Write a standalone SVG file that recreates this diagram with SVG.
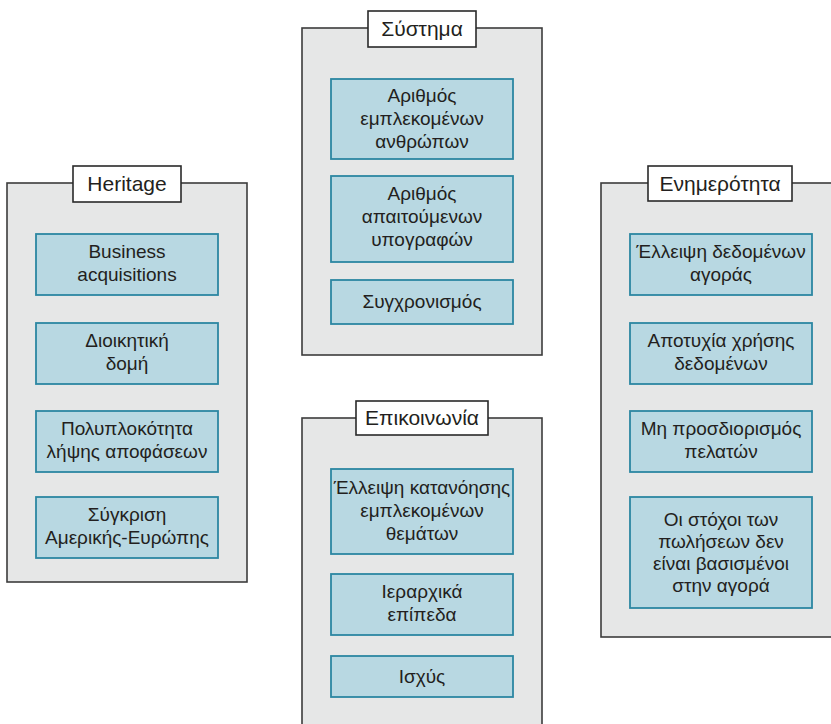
<svg xmlns="http://www.w3.org/2000/svg" width="831" height="724" viewBox="0 0 831 724">
<style>
.panel{fill:#e6e7e7;stroke:#3c3c3c;stroke-width:1.6}
.title{fill:#ffffff;stroke:#2a2a2a;stroke-width:1.6}
.item{fill:#b8d8e2;stroke:#2c87a2;stroke-width:1.8}
text{font-family:"Liberation Sans",Arial,sans-serif;fill:#231f20;text-anchor:middle}
.tt{font-size:21px}
.it{font-size:19px}
</style>
<rect width="831" height="724" fill="#ffffff"/>
<g id="connectors"></g>

<g id="heritage">
<rect class="panel" x="7" y="183" width="240" height="399"/>
<rect class="title" x="73" y="166" width="108" height="36"/>
<text class="tt" x="127" y="191">Heritage</text>
</g>
<g id="h1"><rect class="item" x="36" y="234" width="182" height="61"/>
<text class="it" x="127" y="258">Business</text><text class="it" x="127" y="281">acquisitions</text></g>
<g id="h2"><rect class="item" x="36" y="323" width="182" height="61"/>
<text class="it" x="127" y="347">Διοικητική</text><text class="it" x="127" y="370">δομή</text></g>
<g id="h3"><rect class="item" x="36" y="411" width="182" height="61"/>
<text class="it" x="127" y="435">Πολυπλοκότητα</text><text class="it" x="127" y="458">λήψης αποφάσεων</text></g>
<g id="h4"><rect class="item" x="36" y="497" width="182" height="61"/>
<text class="it" x="127" y="521">Σύγκριση</text><text class="it" x="127" y="544">Αμερικής-Ευρώπης</text></g>

<g id="systima">
<rect class="panel" x="302" y="28" width="240" height="327"/>
<rect class="title" x="368" y="11" width="108" height="36"/>
<text class="tt" x="422" y="36">Σύστημα</text>
</g>
<g id="s1"><rect class="item" x="331" y="79" width="182" height="80"/>
<text class="it" x="422" y="102">Αριθμός</text><text class="it" x="422" y="125">εμπλεκομένων</text><text class="it" x="422" y="148">ανθρώπων</text></g>
<g id="s2"><rect class="item" x="331" y="176" width="182" height="86"/>
<text class="it" x="422" y="200">Αριθμός</text><text class="it" x="422" y="223">απαιτούμενων</text><text class="it" x="422" y="246">υπογραφών</text></g>
<g id="s3"><rect class="item" x="331" y="280" width="182" height="44"/>
<text class="it" x="422" y="308">Συγχρονισμός</text></g>

<g id="epikoinonia">
<rect class="panel" x="302" y="418" width="240" height="320"/>
<rect class="title" x="356" y="401" width="132" height="34"/>
<text class="tt" x="422" y="425">Επικοινωνία</text>
</g>
<g id="e1"><rect class="item" x="331" y="469" width="182" height="85"/>
<text class="it" x="422" y="494">Έλλειψη κατανόησης</text><text class="it" x="422" y="517">εμπλεκομένων</text><text class="it" x="422" y="540">θεμάτων</text></g>
<g id="e2"><rect class="item" x="331" y="574" width="182" height="61"/>
<text class="it" x="422" y="598">Ιεραρχικά</text><text class="it" x="422" y="621">επίπεδα</text></g>
<g id="e3"><rect class="item" x="331" y="656" width="182" height="41"/>
<text class="it" x="422" y="683">Ισχύς</text></g>

<g id="enimerotita">
<rect class="panel" x="601" y="183" width="242" height="454"/>
<rect class="title" x="648" y="166" width="144" height="35"/>
<text class="tt" x="720" y="191">Ενημερότητα</text>
</g>
<g id="n1"><rect class="item" x="630" y="234" width="182" height="61"/>
<text class="it" x="721" y="258">Έλλειψη δεδομένων</text><text class="it" x="721" y="281">αγοράς</text></g>
<g id="n2"><rect class="item" x="630" y="323" width="182" height="61"/>
<text class="it" x="721" y="347">Αποτυχία χρήσης</text><text class="it" x="721" y="370">δεδομένων</text></g>
<g id="n3"><rect class="item" x="630" y="411" width="182" height="61"/>
<text class="it" x="721" y="435">Μη προσδιορισμός</text><text class="it" x="721" y="458">πελατών</text></g>
<g id="n4"><rect class="item" x="630" y="497" width="182" height="111"/>
<text class="it" x="721" y="526">Οι στόχοι των</text><text class="it" x="721" y="548">πωλήσεων δεν</text><text class="it" x="721" y="570">είναι βασισμένοι</text><text class="it" x="721" y="592">στην αγορά</text></g>
</svg>
